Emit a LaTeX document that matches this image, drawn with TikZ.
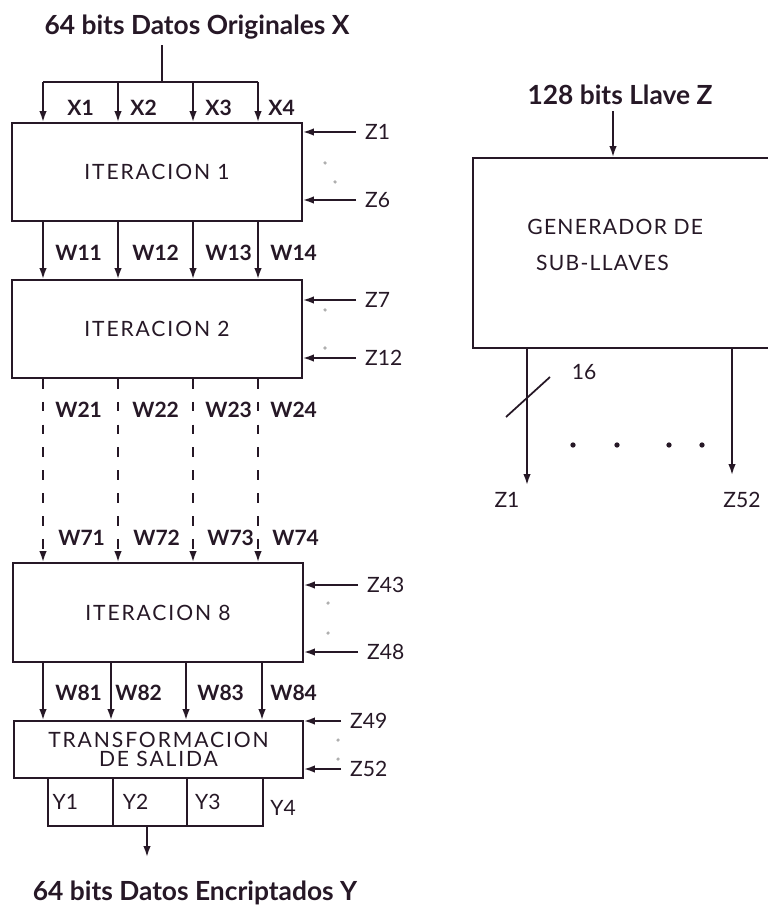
\documentclass[tikz,border=0pt]{standalone}
\usepackage{fontspec}
\setmainfont{Lato}
\usetikzlibrary{arrows.meta,positioning,calc}
\definecolor{IdeaInk}{RGB}{38,24,38}
\definecolor{IdeaDot}{RGB}{175,175,175}
\tikzset{
  idea/box/.style={
    draw=IdeaInk,
    line width=1.1pt,
    fill=white,
    align=center,
    text=IdeaInk,
    inner sep=0pt,
    font=\fontsize{12}{11}\selectfont\addfontfeature{LetterSpace=9}
  },
  idea/cell/.style={draw=IdeaInk, line width=1.1pt, inner sep=0pt, minimum height=0.96cm},
  idea/title/.style={font=\bfseries\fontsize{15}{17}\selectfont, text=IdeaInk},
  idea/wlabel/.style={font=\bfseries\fontsize{12}{14}\selectfont, text=IdeaInk, anchor=west, inner sep=0pt},
  idea/zlabel/.style={font=\fontsize{12}{14}\selectfont, text=IdeaInk, anchor=west, inner xsep=5pt, inner ysep=0pt},
  idea/plain/.style={font=\fontsize{12}{14}\selectfont, text=IdeaInk, inner sep=0pt},
  idea/arrow/.style={-{Latex[length=2.2mm,width=1.5mm]}, line width=1pt, draw=IdeaInk},
  idea/dasharrow/.style={idea/arrow, dash pattern=on 5.5pt off 7.5pt},
  idea/line/.style={line width=1pt, draw=IdeaInk},
  idea/dot/.style={circle, fill=IdeaDot, inner sep=0pt, minimum size=2pt}
}

\begin{document}
\begin{tikzpicture}[x=0.02cm,y=-0.02cm]
  \useasboundingbox (0,0) rectangle (767,908);
  % columns of the data path
  \coordinate (c1) at (43,0);
  \coordinate (c2) at (118,0);
  \coordinate (c3) at (193,0);
  \coordinate (c4) at (258,0);
  \coordinate (d2) at (111,0);
  \coordinate (d3) at (186,0);
  \coordinate (d4) at (262,0);

  % data path
  \node[idea/title] (xin) at (197,27) {64 bits Datos Originales X};
  \node[idea/box,minimum width=5.8cm,minimum height=1.96cm] (it1) at (157,172) {ITERACION 1};
  \node[idea/box,minimum width=5.8cm,minimum height=1.96cm] (it2) at (157,329) {ITERACION 2};
  \node[idea/box,minimum width=5.8cm,minimum height=1.98cm] (it8) at (158,612.5) {ITERACION 8};
  \node[idea/box,minimum width=5.78cm,minimum height=1.14cm] (ts) at (158.5,749.5) {TRANSFORMACION\\DE SALIDA};
  \node[idea/cell,minimum width=1.3cm] (y1) at (80.5,802) {};
  \node[idea/cell,minimum width=1.48cm] (y2) at (150,802) {};
  \node[idea/cell,minimum width=1.52cm] (y3) at (225,802) {};
  \node[idea/title] (yout) at (195,893) {64 bits Datos Encriptados Y};

  \coordinate (xsplit) at (162,82);
  \draw[idea/line] (xin.south -| xsplit) -- (xsplit);
  \draw[idea/line] (xsplit -| c1) -- (xsplit -| c4);
  \draw[idea/arrow] (xsplit -| c1) -- (it1.north -| c1);
  \draw[idea/arrow] (xsplit -| c2) -- (it1.north -| c2);
  \draw[idea/arrow] (xsplit -| c3) -- (it1.north -| c3);
  \draw[idea/arrow] (xsplit -| c4) -- (it1.north -| c4);
  \node[idea/wlabel] (x1) at (67,108) {X1};
  \node[idea/wlabel] (x2) at (130,108) {X2};
  \node[idea/wlabel] (x3) at (205,108) {X3};
  \node[idea/wlabel] (x4) at (268,108) {X4};

  \draw[idea/arrow] (it1.south -| c1) -- (it2.north -| c1);
  \draw[idea/arrow] (it1.south -| c2) -- (it2.north -| c2);
  \draw[idea/arrow] (it1.south -| c3) -- (it2.north -| c3);
  \draw[idea/arrow] (it1.south -| c4) -- (it2.north -| c4);
  \node[idea/wlabel] (w11) at (55,253) {W11};
  \node[idea/wlabel] (w12) at (132,253) {W12};
  \node[idea/wlabel] (w13) at (205,253) {W13};
  \node[idea/wlabel] (w14) at (270,253) {W14};

  \draw[idea/dasharrow] (it2.south -| c1) -- (it8.north -| c1);
  \draw[idea/dasharrow] (it2.south -| c2) -- (it8.north -| c2);
  \draw[idea/dasharrow] (it2.south -| c3) -- (it8.north -| c3);
  \draw[idea/dasharrow] (it2.south -| c4) -- (it8.north -| c4);
  \node[idea/wlabel] (w21) at (55,410) {W21};
  \node[idea/wlabel] (w22) at (132,410) {W22};
  \node[idea/wlabel] (w23) at (205,410) {W23};
  \node[idea/wlabel] (w24) at (270,410) {W24};
  \node[idea/wlabel] (w71) at (58,538) {W71};
  \node[idea/wlabel] (w72) at (133,538) {W72};
  \node[idea/wlabel] (w73) at (207,538) {W73};
  \node[idea/wlabel] (w74) at (272,538) {W74};

  \draw[idea/arrow] (it8.south -| c1) -- (ts.north -| c1);
  \draw[idea/arrow] (it8.south -| d2) -- (ts.north -| d2);
  \draw[idea/arrow] (it8.south -| d3) -- (ts.north -| d3);
  \draw[idea/arrow] (it8.south -| d4) -- (ts.north -| d4);
  \node[idea/wlabel] (w81) at (55,693) {W81};
  \node[idea/wlabel] (w82) at (115,693) {W82};
  \node[idea/wlabel] (w83) at (197,693) {W83};
  \node[idea/wlabel] (w84) at (270,693) {W84};

  \node[idea/zlabel,inner xsep=3pt] (y1l) at (y1.west) {Y1};
  \node[idea/zlabel,inner xsep=6pt] (y2l) at (y2.west) {Y2};
  \node[idea/zlabel,inner xsep=5pt] (y3l) at (y3.west) {Y3};
  \node[idea/zlabel,inner xsep=4pt] (y4l) at (263,808) {Y4};
  \coordinate (ydown) at (147,857);
  \draw[idea/arrow] (y2.south -| ydown) -- (ydown);

  % sub-keys entering each stage
  \node[idea/zlabel] (z1) at (356,132) {Z1};
  \node[idea/zlabel] (z6) at (356,200) {Z6};
  \node[idea/zlabel] (z7) at (356,300) {Z7};
  \node[idea/zlabel] (z12) at (356,358) {Z12};
  \node[idea/zlabel] (z43) at (358,585) {Z43};
  \node[idea/zlabel] (z48) at (358,652) {Z48};
  \node[idea/zlabel] (z49) at (341,721) {Z49};
  \node[idea/zlabel] (z52) at (341,769) {Z52};
  \draw[idea/arrow] (z1.west) -- (z1.west -| it1.east);
  \draw[idea/arrow] (z6.west) -- (z6.west -| it1.east);
  \draw[idea/arrow] (z7.west) -- (z7.west -| it2.east);
  \draw[idea/arrow] (z12.west) -- (z12.west -| it2.east);
  \draw[idea/arrow] (z43.west) -- (z43.west -| it8.east);
  \draw[idea/arrow] (z48.west) -- (z48.west -| it8.east);
  \draw[idea/arrow] (z49.west) -- (z49.west -| ts.east);
  \draw[idea/arrow] (z52.west) -- (z52.west -| ts.east);
  \node[idea/dot] (e1a) at (325,163) {};
  \node[idea/dot] (e1b) at (335,182) {};
  \node[idea/dot] (e2a) at (325,310) {};
  \node[idea/dot] (e2b) at (325,348) {};
  \node[idea/dot] (e8a) at (328,603) {};
  \node[idea/dot] (e8b) at (328,633) {};
  \node[idea/dot] (esa) at (338,740) {};
  \node[idea/dot] (esb) at (338,759) {};

  % key schedule
  \node[idea/title] (key) at (620,95) {128 bits Llave Z};
  \node[idea/box,minimum width=6.34cm,minimum height=3.8cm] (gen) at (631.5,253) {};
  \node[idea/plain,anchor=west,align=left,font=\fontsize{12}{20}\selectfont\addfontfeature{LetterSpace=6}] (gentxt) at (527,245) {GENERADOR DE\\\hspace{5pt}SUB-LLAVES};
  \coordinate (kin) at (613,0);
  \draw[idea/arrow] (key.south -| kin) -- (gen.north -| kin);
  \coordinate (o1) at (527,485);
  \coordinate (o52) at (732,475);
  \draw[idea/arrow] (gen.south -| o1) -- (o1);
  \draw[idea/arrow] (gen.south -| o52) -- (o52);
  \draw[idea/line] (506,417) -- (550,377);
  \node[idea/plain] (bus) at (584,372) {16};
  \node[idea/dot,fill=IdeaInk,minimum size=3pt] (g1) at (573,445) {};
  \node[idea/dot,fill=IdeaInk,minimum size=3pt] (g2) at (617,445) {};
  \node[idea/dot,fill=IdeaInk,minimum size=3pt] (g3) at (669,445) {};
  \node[idea/dot,fill=IdeaInk,minimum size=3pt] (g4) at (702,445) {};
  \node[idea/plain] (zo1) at (507,500) {Z1};
  \node[idea/plain] (zo52) at (742,500) {Z52};
\end{tikzpicture}
\end{document}
